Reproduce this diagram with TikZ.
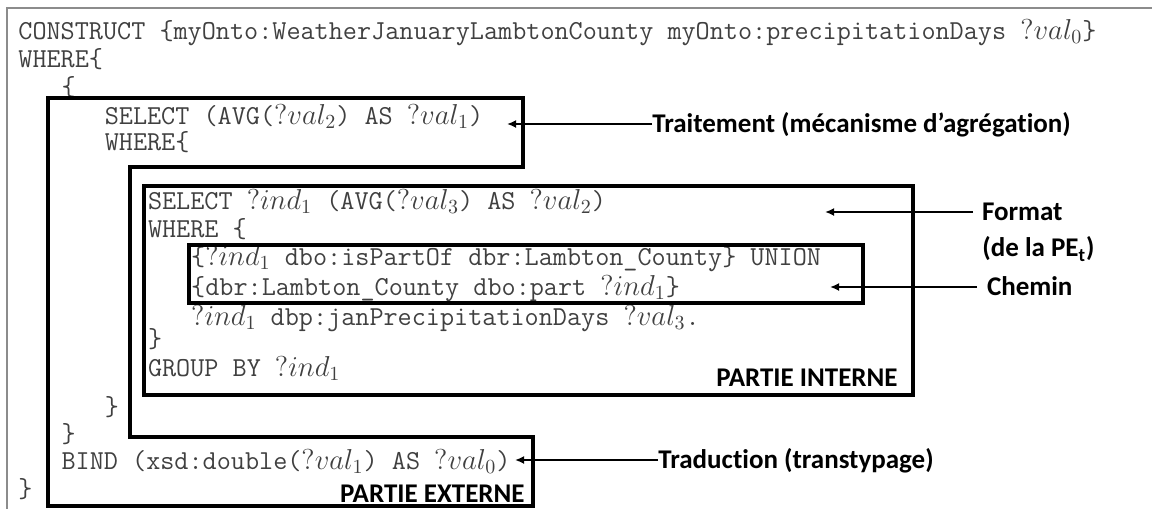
\documentclass[tikz,border=0pt]{standalone}
\usepackage{fontspec}
\newfontfamily\notefont[Ligatures=NoCommon]{Carlito}
\usetikzlibrary{positioning}
\usetikzlibrary{arrows.meta}

\begin{document}
\begin{tikzpicture}[x=0.5pt, y=-0.5pt,
  code/.style={anchor=base west, inner sep=0pt, text height=9.5pt, text depth=3pt, text=black!75, font=\ttfamily\fontsize{13.7}{16}\selectfont},
  note/.style={anchor=west, inner sep=0pt, text height=8.7pt, text depth=0pt, font=\notefont\bfseries\fontsize{13.5}{16}\selectfont},
  part/.style={line width=1.75pt, line join=miter},
  pointer/.style={-{Latex[length=4.5pt,width=4pt]}, line width=0.9pt}]
  \useasboundingbox (0,0) rectangle (1152,509);
  % listing frame %
  \draw[black!45, line width=0.75pt] (7,509) -- (7,8) -- (1152,8);
  % query lines %
  \node[code] (construct) at (18,39) {CONSTRUCT \{myOnto:WeatherJanuaryLambtonCounty myOnto:precipitationDays $?val_0$\}};
  \node[code] (where0) at (18,67) {WHERE\{};
  \node[code] (open0) at (61.2,95) {\{};
  \node[code] (selavg) at (104.4,124) {SELECT (AVG($?val_2$) AS $?val_1$)};
  \node[code] (where1) at (104.4,150) {WHERE\{};
  \node[code] (selind) at (147.6,209) {SELECT $?ind_1$ (AVG($?val_3$) AS $?val_2$)};
  \node[code] (where2) at (147.6,237) {WHERE \{};
  \node[code] (ispart) at (190.8,265) {\{$?ind_1$ dbo:isPartOf dbr:Lambton\_County\} UNION};
  \node[code] (part) at (190.8,295) {\{dbr:Lambton\_County dbo:part $?ind_1$\}};
  \node[code] (janprec) at (190.8,325) {$?ind_1$ dbp:janPrecipitationDays $?val_3$.};
  \node[code] (close2) at (147.6,347) {\}};
  \node[code] (groupby) at (147.6,376) {GROUP BY $?ind_1$};
  \node[code] (close1) at (104.4,415) {\}};
  \node[code] (close0) at (61.2,442) {\}};
  \node[code] (bind) at (61.2,469) {BIND (xsd:double($?val_1$) AS $?val_0$)};
  \node[code] (closeall) at (18,497) {\}};
  % parts %
  \draw[part] (48,98) -- (523,98) -- (523,167) -- (130,167) -- (130,437)
    -- (533,437) -- (533,506) -- (48,506) -- cycle;
  \draw[part] (144,186) rectangle (913,395);
  \draw[part] (189,245) rectangle (863,303);
  \node[note, anchor=base east] (intern) at (898,386) {PARTIE INTERNE};
  \node[note, anchor=base east] (extern) at (525,502) {PARTIE EXTERNE};
  % annotations %
  \node[note] (trait) at (652,124) {Traitement (mécanisme d’agrégation)};
  \node[note, outer xsep=4.5pt] (fmt) at (973,212) {Format};
  \node[note] (fmtpe) at (982,248) {(de la PE\textsubscript{t})};
  \node[note, outer xsep=5pt] (chemin) at (977,287) {Chemin};
  \node[note] (trad) at (658,460) {Traduction (transtypage)};
  \coordinate (traittip) at (507,124);
  \coordinate (fmttip) at (825,212);
  \coordinate (chemintip) at (830,287);
  \coordinate (tradtip) at (515,460);
  % edges %
  \draw[pointer] (trait.west) -- (traittip);
  \draw[pointer] (fmt.west) -- (fmttip);
  \draw[pointer] (chemin.west) -- (chemintip);
  \draw[pointer] (trad.west) -- (tradtip);
\end{tikzpicture}
\end{document}
